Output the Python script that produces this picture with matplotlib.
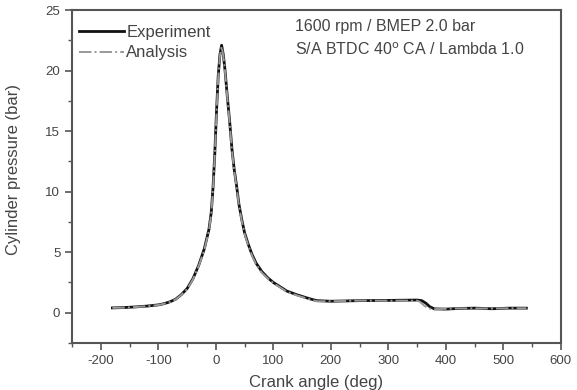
import matplotlib
matplotlib.use("Agg")
import matplotlib.pyplot as plt
from matplotlib.ticker import MultipleLocator

plt.rcParams['font.family'] = ['Liberation Sans', 'DejaVu Sans']
plt.rcParams['axes.unicode_minus'] = False

# crank angle (deg) and cylinder pressure (bar)
crank_exp = [-180, -160, -140, -120, -100, -90, -80, -70, -60, -50, -40, -30, -20,
             -12, -8, -5, -2, 1, 4, 7, 10, 13, 16, 20, 24, 28, 32, 36, 40, 45, 50,
             56, 63, 70, 80, 90, 100, 110, 123, 140, 160, 175, 200, 250, 300, 350,
             358, 365, 372, 380, 400, 420, 450, 480, 510, 540]
p_exp = [0.40, 0.43, 0.48, 0.55, 0.65, 0.75, 0.90, 1.12, 1.50, 2.0, 2.8, 3.9, 5.3,
         6.9, 8.3, 10.3, 13.0, 16.5, 19.5, 21.3, 22.1, 21.3, 20.0, 17.8, 15.8, 13.5,
         11.8, 10.5, 9.0, 7.7, 6.6, 5.7, 4.8, 4.1, 3.4, 2.9, 2.5, 2.2, 1.8, 1.5, 1.2,
         1.0, 0.95, 1.0, 1.02, 1.05, 1.0, 0.8, 0.5, 0.32, 0.30, 0.35, 0.38, 0.33,
         0.38, 0.38]

crank_ana = [-180, -160, -140, -120, -100, -90, -80, -70, -60, -50, -40, -30, -20,
             -12, -8, -5, -2, 1, 4, 7, 10, 13, 16, 20, 24, 28, 32, 36, 40, 45, 50,
             56, 63, 70, 80, 90, 100, 110, 123, 140, 160, 175, 200, 250, 300, 350,
             355, 362, 370, 380, 400, 420, 450, 480, 510, 540]
p_ana = [0.40, 0.42, 0.47, 0.54, 0.64, 0.74, 0.88, 1.10, 1.48, 1.95, 2.75, 3.85, 5.2,
         6.8, 8.2, 10.2, 12.9, 16.4, 19.4, 21.2, 22.0, 21.2, 19.9, 17.7, 15.7, 13.4,
         11.7, 10.4, 8.9, 7.6, 6.5, 5.6, 4.7, 4.0, 3.3, 2.85, 2.45, 2.15, 1.75, 1.45,
         1.15, 0.95, 0.95, 1.0, 1.0, 1.0, 0.9, 0.6, 0.35, 0.30, 0.32, 0.36, 0.36,
         0.35, 0.37, 0.37]

xticks = [-200, -100, 0, 100, 200, 300, 400, 500, 600]
yticks = [0, 5, 10, 15, 20, 25]

text_col = '#444444'

fig = plt.figure(figsize=(5.77, 3.90), dpi=100)
ax = fig.add_axes([0.125, 0.1205, 0.847, 0.8535])

ax.plot(crank_exp, p_exp, color='#111111', linewidth=2.0, label='Experiment')
ax.plot(crank_ana, p_ana, color='#999999', linewidth=1.4, linestyle='-.',
        label='Analysis')

ax.set_xlim(-250, 600)
ax.set_ylim(-2.5, 25)
ax.set_xticks(xticks)
ax.set_yticks(yticks)
ax.xaxis.set_minor_locator(MultipleLocator(50))
ax.yaxis.set_minor_locator(MultipleLocator(2.5))
ax.tick_params(which='both', direction='out', colors='#555555', labelcolor=text_col,
               labelsize=9.5, top=False, right=False)
ax.tick_params(which='major', length=5, width=1.2)
ax.tick_params(which='minor', length=3, width=1.0)
for s in ax.spines.values():
    s.set_color('#555555')
    s.set_linewidth(1.5)

ax.set_xlabel('Crank angle (deg)', fontsize=12, color=text_col)
ax.xaxis.set_label_coords(0.5, -0.097)
ax.set_ylabel('Cylinder pressure (bar)', fontsize=12, color=text_col)
ax.yaxis.set_label_coords(-0.105, 0.52)

leg = ax.legend(loc='upper left', frameon=False, fontsize=12, handlelength=2.7,
                handletextpad=0.15, labelspacing=0.32, borderaxespad=0.0,
                bbox_to_anchor=(0.0, 0.975))
for t in leg.get_texts():
    t.set_color(text_col)

ax.text(0.457, 0.95, '1600 rpm / BMEP 2.0 bar', transform=ax.transAxes,
        fontsize=11.5, color=text_col, va='center')
ax.text(0.457, 0.88, 'S/A BTDC 40$^{\\mathrm{o}}$ CA / Lambda 1.0',
        transform=ax.transAxes, fontsize=11.5, color=text_col, va='center')

fig.savefig('out.png', dpi=100)
